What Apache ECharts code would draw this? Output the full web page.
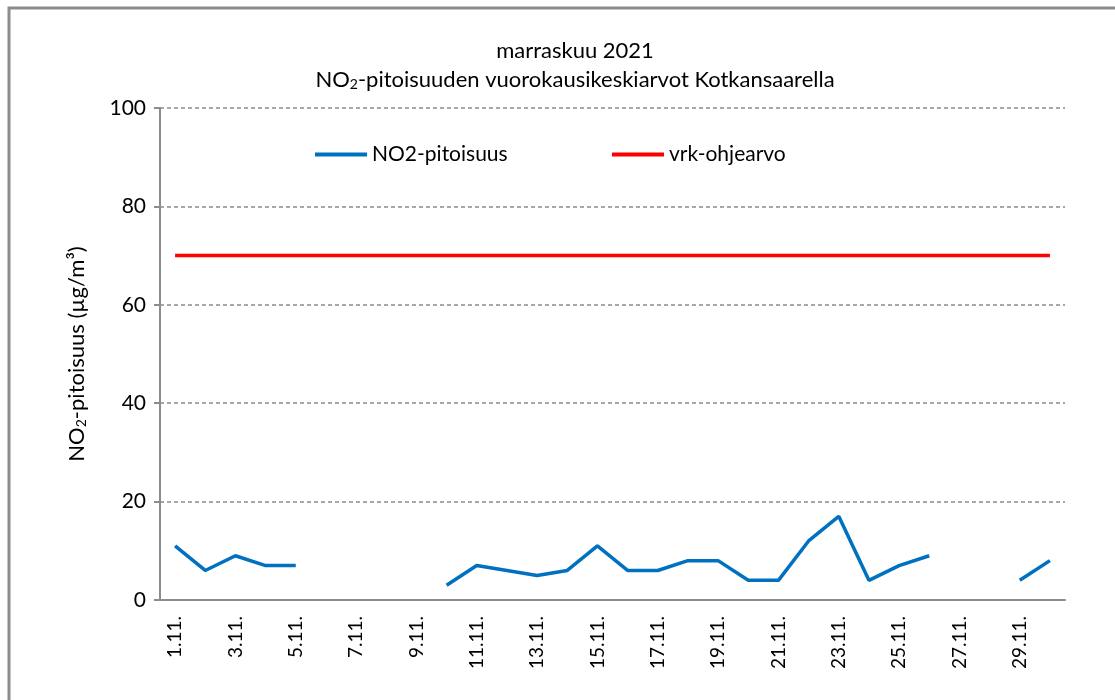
<!DOCTYPE html>
<html>
<head>
<meta charset="utf-8">
<script src="https://cdn.jsdelivr.net/npm/echarts@6/dist/echarts.min.js"></script>
<style>
  html, body { margin: 0; padding: 0; background: #fff; }
  #main { width: 1115px; height: 700px; }
</style>
</head>
<body>
<div id="main"></div>
<script>
// päivät 1.11.–30.11.
var days = [];
for (var d = 1; d <= 30; d++) days.push(d + '.11.');

// NO2 vuorokausikeskiarvot (µg/m³), puuttuvat päivät = null
var no2 = [11, 6, 9, 7, 7, null, null, null, null, 3,
           7, 6, 5, 6, 11, 6, 6, 8, 8, 4,
           4, 12, 17, 4, 7, 9, null, null, 4, 8];

// vrk-ohjearvo
var ohjearvo = [70, 70, 70, 70, 70, 70, 70, 70, 70, 70,
                70, 70, 70, 70, 70, 70, 70, 70, 70, 70,
                70, 70, 70, 70, 70, 70, 70, 70, 70, 70];

var yTicks = [0, 20, 40, 60, 80, 100];

var font = 'Lato, "Noto Sans", sans-serif';
var grey = '#8c8c8c';

var option = {
    backgroundColor: '#fff',
    textStyle: { fontFamily: font, color: '#000' },
    title: {
        left: 570,
        top: 31,
        textAlign: 'center',
        text: '{a|marraskuu 2021}\n{a|NO}{s|2}{a|-pitoisuuden vuorokausikeskiarvot Kotkansaarella}',
        textStyle: {
            fontWeight: 'normal',
            rich: {
                a: { fontSize: 22, fontFamily: font, fontWeight: 'normal', color: '#000', lineHeight: 29 },
                s: { fontSize: 14, fontFamily: font, fontWeight: 'normal', color: '#000', lineHeight: 29, padding: [9, 0, 0, 0] }
            }
        }
    },
    legend: [{
        left: 310, top: 139,
        data: ['NO2-pitoisuus'],
        icon: 'rect', itemWidth: 52, itemHeight: 4,
        textStyle: { fontSize: 21, fontFamily: font, color: '#000' }
    }, {
        left: 607, top: 139,
        data: ['vrk-ohjearvo'],
        icon: 'rect', itemWidth: 52, itemHeight: 4,
        textStyle: { fontSize: 21, fontFamily: font, color: '#000' }
    }],
    grid: { left: 160, right: 50, top: 108, bottom: 100 },
    xAxis: {
        type: 'category',
        data: days,
        boundaryGap: true,
        axisLine: { lineStyle: { color: grey, width: 2 } },
        axisTick: { interval: 1, length: 5, lineStyle: { color: grey, width: 2 } },
        axisLabel: { interval: 1, rotate: 90, fontSize: 19, margin: 16, color: '#000', fontFamily: font }
    },
    yAxis: {
        type: 'value',
        min: yTicks[0], max: yTicks[yTicks.length - 1], interval: 20,
        name: '{a|NO}{s|2}{a|-pitoisuus (µg/m³)}',
        nameLocation: 'middle',
        nameGap: 72,
        nameTextStyle: {
            rich: {
                a: { fontSize: 22, fontFamily: font, color: '#000' },
                s: { fontSize: 14, fontFamily: font, color: '#000', padding: [9, 0, 0, 0] }
            }
        },
        axisLine: { show: true, lineStyle: { color: grey, width: 2 } },
        axisTick: { show: true, length: 6, lineStyle: { color: grey, width: 2 } },
        axisLabel: { fontSize: 21, margin: 14, color: '#000', fontFamily: font },
        splitLine: { lineStyle: { color: grey, type: [4, 3], width: 1.5 } }
    },
    graphic: [{
        type: 'rect',
        shape: { x: 9, y: 8, width: 1200, height: 800 },
        style: { fill: 'none', stroke: grey, lineWidth: 3 },
        silent: true
    }],
    series: [{
        name: 'NO2-pitoisuus',
        type: 'line',
        data: no2,
        symbol: 'none',
        connectNulls: false,
        itemStyle: { color: '#0070c0' },
        lineStyle: { color: '#0070c0', width: 3.5 },
        z: 3
    }, {
        name: 'vrk-ohjearvo',
        type: 'line',
        data: ohjearvo,
        symbol: 'none',
        itemStyle: { color: '#ff0000' },
        lineStyle: { color: '#ff0000', width: 3.5 },
        z: 2
    }]
};

echarts.init(document.getElementById('main')).setOption(option);
</script>
</body>
</html>
